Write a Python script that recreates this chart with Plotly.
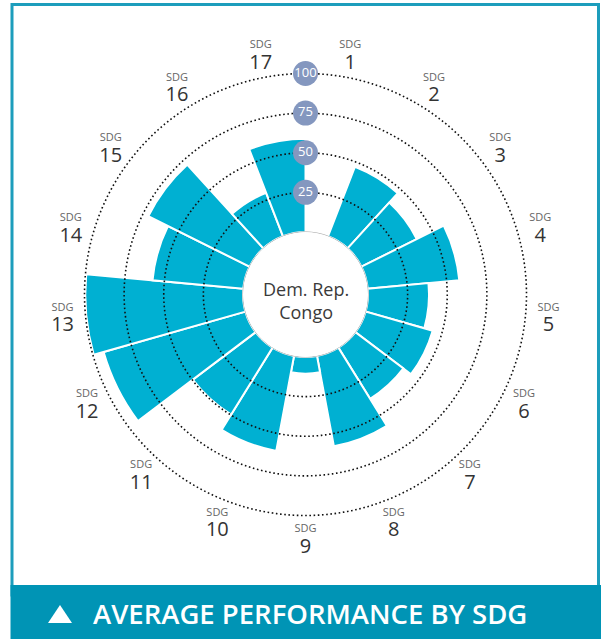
import numpy as np
import plotly.graph_objects as go

# ---------------- data ----------------
sdg_numbers = list(range(1, 18))
scores = [0, 47, 39, 58, 38.5, 44, 38, 58, 10.5, 61, 49.7, 93, 99.5, 57.5, 71.4, 29.4, 58.8]
grid_levels = [25, 50, 75, 100]
grid_labels = ["25", "50", "75", "100"]
country = "Dem. Rep.<br>Congo"
title_text = "AVERAGE PERFORMANCE BY SDG"

# ---------------- geometry (pixels) ----------------
W, H = 601, 639
CX, CY = 305.5, 294.5      # centre of the wheel
R0 = 62.5                  # hole radius
R100 = 221.0               # radius of the 100 circle
RMAX = 120                 # radial axis max
LABEL_R = 114.5
rpx = R0 + (R100 - R0) * RMAX / 100
hole = R0 / rpx


def px(x):
    return x / W


def py(y):
    return 1 - y / H


n = len(scores)
step = 360 / n
theta = [(i + 0.5) * step for i in range(n)]
circle_theta = np.linspace(0, 360, 721)

BAR = "#00B0D2"
FONT = "Open Sans"

fig = go.Figure()

fig.add_trace(go.Barpolar(
    r=scores, theta=theta, width=[step] * n,
    marker=dict(color=BAR, line=dict(color="white", width=2)),
    hoverinfo="skip",
))

for lvl in grid_levels:
    fig.add_trace(go.Scatterpolar(
        r=[lvl] * len(circle_theta), theta=circle_theta, mode="lines",
        line=dict(color="#111111", width=1.6, dash="1.6px,2.6px"),
        hoverinfo="skip",
    ))

# hole outline
fig.add_trace(go.Scatterpolar(
    r=[0] * len(circle_theta), theta=circle_theta, mode="lines",
    line=dict(color="#9a9a9a", width=1), hoverinfo="skip",
))

# badges
fig.add_trace(go.Scatterpolar(
    r=grid_levels, theta=[0] * len(grid_levels), mode="markers+text",
    text=grid_labels, textposition="middle center",
    marker=dict(size=25, color="#8497BF", line=dict(width=0)),
    textfont=dict(color="white", size=13, family=FONT),
    hoverinfo="skip",
))

# SDG labels
label_text = [f'<span style="font-size:11px;color:#666666">SDG</span><br><span style="font-size:20px">{k}</span>'
              for k in sdg_numbers]
fig.add_trace(go.Scatterpolar(
    r=[LABEL_R] * n, theta=theta, mode="text", text=label_text,
    textposition="middle center",
    textfont=dict(color="#333333", size=16, family=FONT),
    hoverinfo="skip",
))

fig.update_layout(
    width=W, height=H,
    margin=dict(l=0, r=0, t=0, b=0),
    paper_bgcolor="white",
    showlegend=False,
    polar=dict(
        domain=dict(x=[px(CX - rpx), px(CX + rpx)], y=[py(CY + rpx), py(CY - rpx)]),
        hole=hole,
        bgcolor="white",
        radialaxis=dict(range=[0, RMAX], showgrid=False, showticklabels=False,
                        showline=False, ticks=""),
        angularaxis=dict(rotation=90, direction="clockwise", showgrid=False,
                         showticklabels=False, showline=False, ticks=""),
    ),
    shapes=[
        dict(type="rect", xref="paper", yref="paper",
             x0=px(12), x1=px(598.5), y0=py(595), y1=py(4.5),
             line=dict(color="#1C9DBC", width=3), fillcolor="rgba(0,0,0,0)"),
        dict(type="rect", xref="paper", yref="paper",
             x0=px(10.5), x1=px(605), y0=py(645), y1=py(585),
             line=dict(width=0), fillcolor="#0094B5"),
        dict(type="path", xref="paper", yref="paper",
             path=f"M {px(48)},{py(623)} L {px(72)},{py(623)} L {px(60)},{py(605)} Z",
             line=dict(width=0), fillcolor="white"),
    ],
    annotations=[
        dict(text=country, x=px(CX), y=py(CY + 6), xref="paper", yref="paper",
             showarrow=False, xanchor="center", yanchor="middle",
             font=dict(size=18, color="#3a3a3a", family=FONT)),
        dict(text=title_text, x=px(91), y=py(613), xref="paper", yref="paper",
             showarrow=False, xanchor="left", yanchor="middle",
             font=dict(size=27.5, color="white", family=FONT, weight=600)),
    ],
)

fig.write_html("out.html", post_script="document.body.style.margin='0';",
               config={"displayModeBar": False})
